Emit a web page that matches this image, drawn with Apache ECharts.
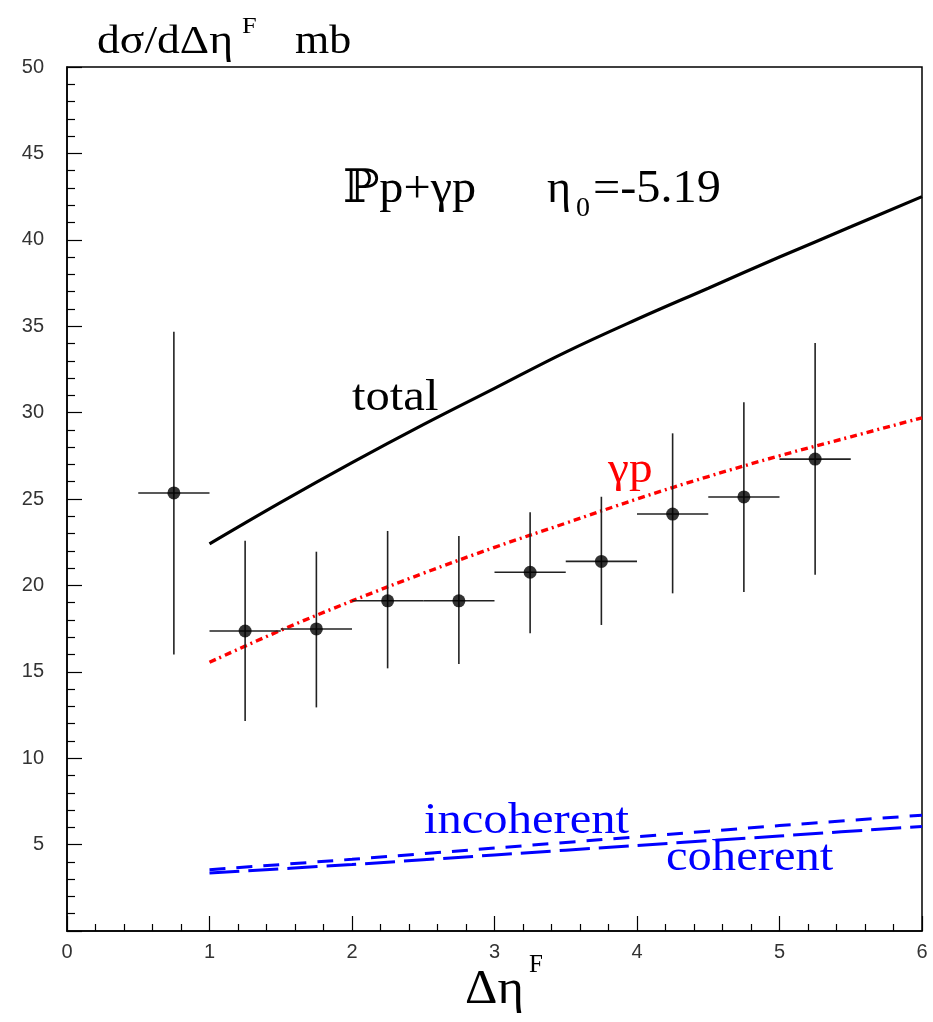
<!DOCTYPE html>
<html>
<head>
<meta charset="utf-8">
<script src="https://cdn.jsdelivr.net/npm/echarts@6/dist/echarts.min.js"></script>
<style>
  html, body { margin: 0; padding: 0; background: #fff; }
  #chart { width: 933px; height: 1022px; }
</style>
</head>
<body>
<div id="chart"></div>
<script>
// Measured points: bin edges, centres, values and vertical error limits
const binLow    = [0.5, 1.0, 1.5, 2.0, 2.5, 3.0, 3.5, 4.0, 4.5, 5.0];
const binHigh   = [1.0, 1.5, 2.0, 2.5, 3.0, 3.5, 4.0, 4.5, 5.0, 5.5];
const binCenter = [0.75, 1.25, 1.75, 2.25, 2.75, 3.25, 3.75, 4.25, 4.75, 5.25];
const dataValue = [25.35, 17.36, 17.48, 19.11, 19.11, 20.76, 21.39, 24.13, 25.12, 27.31];
const errLow    = [16.0, 12.15, 12.94, 15.2, 15.45, 17.23, 17.71, 19.54, 19.62, 20.62];
const errHigh   = [34.68, 22.59, 21.95, 23.15, 22.86, 24.23, 25.13, 28.8, 30.6, 34.03];

// Model curves
const curveX       = [1, 1.5, 2, 2.5, 3, 3.5, 4, 4.5, 5, 5.5, 6];
const totalCurve   = [22.4, 24.8, 27.1, 29.3, 31.4, 33.5, 35.4, 37.2, 39.0, 40.75, 42.5];
const gammaPCurve  = [15.55, 17.4, 19.1, 20.7, 22.2, 23.6, 25.0, 26.3, 27.5, 28.6, 29.7];
const blueX        = [1, 2, 3, 4, 5, 6];
const incoherentCurve = [3.55, 4.15, 4.8, 5.45, 6.1, 6.7];
const coherentCurve   = [3.35, 3.85, 4.4, 4.95, 5.5, 6.05];

// Axis ranges and tick steps
const xRange = [0, 6];
const yRange = [0, 50];
const xStep = 1;
const yStep = 5;

const zip = (xs, ys) => xs.map((x, i) => [x, ys[i]]);

const serif = '"Liberation Serif", "DejaVu Serif", serif';
const sans = '"Liberation Sans", Arial, sans-serif';

const chart = echarts.init(document.getElementById('chart'), null, { renderer: 'canvas' });

// Text placed at its left edge, optionally stretched horizontally
function textEl(x, y, str, size, color, sx) {
  return {
    type: 'text', x: x, y: y, z: 50,
    scaleX: sx || 1, originX: 0, originY: 0,
    style: { text: str, font: size + 'px ' + serif, fill: color, verticalAlign: 'middle', textVerticalAlign: 'middle' }
  };
}

const option = {
  animation: false,
  backgroundColor: '#fff',
  grid: { left: 67, right: 11, top: 67, bottom: 91, show: true, borderColor: '#000', borderWidth: 1.5, backgroundColor: 'transparent' },
  xAxis: {
    type: 'value', min: xRange[0], max: xRange[1], interval: xStep,
    axisLine: { show: true, lineStyle: { color: '#000', width: 1.5 } },
    axisTick: { show: true, inside: true, length: 15, lineStyle: { color: '#000', width: 1.2 } },
    minorTick: { show: true, splitNumber: 5, length: 7, lineStyle: { color: '#000', width: 1.2 } },
    splitLine: { show: false },
    axisLabel: { color: '#333', fontFamily: sans, fontSize: 20, margin: 11 }
  },
  yAxis: {
    type: 'value', min: yRange[0], max: yRange[1], interval: yStep,
    axisLine: { show: true, lineStyle: { color: '#000', width: 1.5 } },
    axisTick: { show: true, inside: true, length: 15, lineStyle: { color: '#000', width: 1.2 } },
    minorTick: { show: true, splitNumber: 5, length: 8, lineStyle: { color: '#000', width: 1.2 } },
    splitLine: { show: false },
    axisLabel: {
      color: '#333', fontFamily: sans, fontSize: 20, margin: 23,
      formatter: v => (v === 0 ? '' : String(v))
    }
  },
  series: [
    {
      name: 'total', type: 'line', data: zip(curveX, totalCurve), smooth: 0.4,
      showSymbol: false, lineStyle: { color: '#000', width: 3.2 }, z: 5
    },
    {
      name: 'gammap', type: 'line', data: zip(curveX, gammaPCurve), smooth: 0.4,
      showSymbol: false, lineStyle: { color: '#ff0000', width: 3.4, type: [7, 4, 2, 4] }, z: 5
    },
    {
      name: 'incoherent', type: 'line', data: zip(blueX, incoherentCurve), smooth: 0.3,
      showSymbol: false, lineStyle: { color: '#0000ff', width: 3, type: [16, 11] }, z: 5
    },
    {
      name: 'coherent', type: 'line', data: zip(blueX, coherentCurve), smooth: 0.3,
      showSymbol: false, lineStyle: { color: '#0000ff', width: 3, type: [30, 9] }, z: 5
    },
    {
      name: 'errors', type: 'custom', z: 6,
      data: binCenter.map((c, i) => [c, dataValue[i], binLow[i], binHigh[i], errLow[i], errHigh[i]]),
      renderItem: function (params, api) {
        const yc = api.value(1);
        const pL = api.coord([api.value(2), yc]);
        const pR = api.coord([api.value(3), yc]);
        const pB = api.coord([api.value(0), api.value(4)]);
        const pT = api.coord([api.value(0), api.value(5)]);
        const st = { stroke: '#222', lineWidth: 1.6 };
        return {
          type: 'group',
          children: [
            { type: 'line', shape: { x1: pL[0], y1: pL[1], x2: pR[0], y2: pR[1] }, style: st },
            { type: 'line', shape: { x1: pB[0], y1: pB[1], x2: pT[0], y2: pT[1] }, style: st }
          ]
        };
      }
    },
    {
      name: 'data', type: 'scatter', z: 7,
      data: zip(binCenter, dataValue),
      symbol: 'circle', symbolSize: 13,
      itemStyle: { color: '#000' }
    }
  ],
  graphic: [
    // y-axis title
    textEl(97, 42, 'dσ/dΔη', 40, '#000', 1.14),
    textEl(242, 27, 'F', 24, '#000', 1.1),
    textEl(295, 42, 'mb', 40, '#000', 1.1),
    // process annotation
    textEl(343, 190, 'ℙp+γp', 46, '#000', 1.05),
    textEl(547, 190, 'η', 46, '#000'),
    textEl(576, 209, '0', 28, '#000'),
    textEl(593, 190, '=-5.19', 46, '#000', 1.05),
    // curve labels
    textEl(352, 398, 'total', 45, '#000', 1.08),
    textEl(608, 470, 'γp', 45, '#ff0000', 1.05),
    textEl(424, 821, 'incoherent', 45, '#0000ff', 1.08),
    textEl(666, 858, 'coherent', 45, '#0000ff', 1.08),
    // x-axis title
    textEl(465, 990, 'Δη', 48, '#000', 1.05),
    textEl(529, 965, 'F', 25, '#000')
  ]
};

chart.setOption(option);
</script>
</body>
</html>
